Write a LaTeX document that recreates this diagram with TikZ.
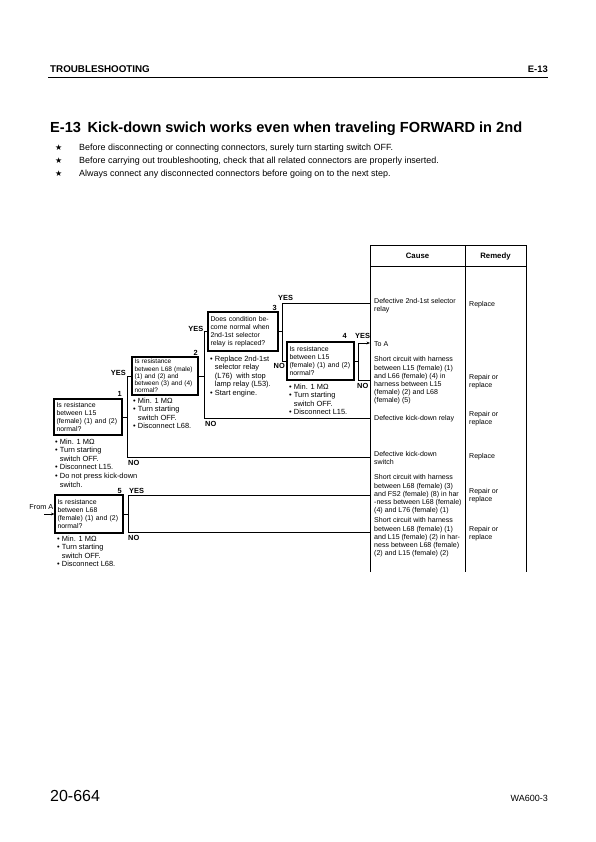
\documentclass[tikz,border=0pt]{standalone}
\usepackage{fontspec}
\setmainfont{Liberation Sans}
\newfontfamily\symfont{DejaVu Sans}
\usetikzlibrary{arrows.meta}
\begin{document}
\begin{tikzpicture}[x=1pt,y=-1pt,
  qbox/.style={draw, line width=1.1pt, inner xsep=2.5pt, inner ysep=0pt, align=left, font=\fontsize{6.9}{8}\selectfont},
  notes/.style={anchor=north west, inner sep=0pt, align=left, font=\fontsize{7.45}{8.6}\selectfont},
  lab/.style={inner sep=0pt, font=\bfseries\fontsize{7.4}{8}\selectfont},
  conn/.style={line width=0.7pt},
  cell/.style={anchor=west, inner sep=0pt, align=left, font=\fontsize{7.05}{8.2}\selectfont},
  tline/.style={line width=0.9pt},
  arr/.style={conn, -{Stealth[length=3.5pt,width=2.8pt]}}]
\useasboundingbox (0,0) rectangle (596,842);
\fill[white] (0,0) rectangle (596,842);

% header
\node[anchor=base west, inner sep=0pt, font=\bfseries\fontsize{9.8}{11}\selectfont] (hd) at (50,73) {TROUBLESHOOTING};
\node[anchor=base east, inner sep=0pt, font=\bfseries\fontsize{9.4}{11}\selectfont] (hdr) at (548,73) {E-13};
\draw[line width=1.3pt] (48,77.5) -- (548,77.5);

% title
\node[anchor=base west, inner sep=0pt, font=\bfseries\fontsize{14.6}{17}\selectfont] (title) at (50,133) {E-13\hspace{0.45em}Kick-down swich works even when traveling FORWARD in 2nd};

% precautions
\foreach \yy/\tt [count=\i] in {150.3/{Before disconnecting or connecting connectors, surely turn starting switch OFF.},
  163.3/{Before carrying out troubleshooting, check that all related connectors are properly inserted.},
  176.3/{Always connect any disconnected connectors before going on to the next step.}}{
  \node[anchor=base west, inner sep=0pt, font=\symfont\fontsize{8}{9}\selectfont] (st\i) at (55,\yy) {★};
  \node[anchor=base west, inner sep=0pt, font=\fontsize{8.95}{10}\selectfont] (pr\i) at (79,\yy) {\tt};
}

% table
\coordinate (TL) at (370,245);
\draw[tline] (370,572) -- (370,245) -- (526,245) -- (526,572);
\draw[tline] (465,245) -- (465,572);
\draw[tline] (370,266) -- (526,266);
\node[lab, font=\bfseries\fontsize{7.8}{9}\selectfont] (hcause) at (417.5,256) {Cause};
\node[lab, font=\bfseries\fontsize{7.8}{9}\selectfont] (hrem) at (495.5,256) {Remedy};

\node[cell] (c1) at (374,305.5) {Defective 2nd-1st selector\\relay};
\node[cell] (r1) at (469,305) {Replace};
\node[cell] (c2) at (374,344) {To A};
\node[cell] (c3) at (374,380.5) {Short circuit with harness\\between L15 (female) (1)\\and L66 (female) (4) in\\harness between L15\\(female) (2) and L68\\(female) (5)};
\node[cell] (r3) at (469,381.5) {Repair or\\replace};
\node[cell] (c4) at (374,419) {Defective kick-down relay};
\node[cell] (r4) at (469,418.5) {Repair or\\replace};
\node[cell] (c5) at (374,458) {Defective kick-down\\switch};
\node[cell] (r5) at (469,457) {Replace};
\node[cell] (c6) at (374,494.5) {Short circuit with harness\\between L68 (female) (3)\\and FS2 (female) (8) in har\\-ness between L68 (female)\\(4) and L76 (female) (1)};
\node[cell] (r6) at (469,495.5) {Repair or\\replace};
\node[cell] (c7) at (374,537.5) {Short circuit with harness\\between L68 (female) (1)\\and L15 (female) (2) in har-\\ness between L68 (female)\\(2) and L15 (female) (2)};
\node[cell] (r7) at (469,533.5) {Repair or\\replace};

% question boxes
\node[qbox, text width=63pt, minimum height=36pt] (q1) at (88,417) {Is resistance\\between L15\\(female) (1) and (2)\\normal?};
\node[qbox, text width=61pt, minimum height=38pt, font=\fontsize{6.5}{7.3}\selectfont] (q2) at (165,376) {Is resistance\\between L68 (male)\\(1) and (2) and\\between (3) and (4)\\normal?};
\node[qbox, text width=65pt, minimum height=39pt] (q3) at (243,331.5) {Does condition be-\\come normal when\\2nd-1st selector\\relay is replaced?};
\node[qbox, text width=62pt, minimum height=38pt] (q4) at (320.5,361) {Is resistance\\between L15\\(female) (1) and (2)\\normal?};
\node[qbox, text width=63pt, minimum height=38pt] (q5) at (89,514) {Is resistance\\between L68\\(female) (1) and (2)\\normal?};

% numbers
\node[lab, anchor=base east] (n1) at (122,396) {1};
\node[lab, anchor=base east] (n2) at (198,355) {2};
\node[lab, anchor=base east] (n3) at (277,310.5) {3};
\node[lab, anchor=base east] (n4) at (347,338.5) {4};
\node[lab, anchor=base east] (n5) at (122,493.5) {5};

% notes under boxes
\node[notes] (m1) at (55,438.4) {• Min. 1 MΩ\\• Turn starting\\\phantom{• }switch OFF.\\• Disconnect L15.\\• Do not press kick-down\\\phantom{• }switch.};
\node[notes] (m2) at (133,397.4) {• Min. 1 MΩ\\• Turn starting\\\phantom{• }switch OFF.\\• Disconnect L68.};
\node[notes] (m3) at (210,355.4) {• Replace 2nd-1st\\\phantom{• }selector relay\\\phantom{• }(L76)\ \ with stop\\\phantom{• }lamp relay (L53).\\• Start engine.};
\node[notes] (m4) at (289,383.4) {• Min. 1 MΩ\\• Turn starting\\\phantom{• }switch OFF.\\• Disconnect L15.};
\node[notes] (m5) at (57,535.4) {• Min. 1 MΩ\\• Turn starting\\\phantom{• }switch OFF.\\• Disconnect L68.};

% junction coordinates
\coordinate (v1t) at (127,376);
\coordinate (v1b) at (127,457);
\coordinate (v2t) at (204,331.5);
\coordinate (v2b) at (204,418);
\coordinate (v3t) at (282,303);
\coordinate (v3b) at (282,361);
\coordinate (v4t) at (358,343);
\coordinate (v4b) at (358,380);
\coordinate (v5t) at (128,495);
\coordinate (v5b) at (128,532);
\coordinate (fa) at (44,514);

% connectors
\draw[conn] (q1.east) -- (q1.east -| v1t);
\draw[conn] (q2.west) -- (v1t) -- (v1b) -- (v1b -| TL);
\draw[conn] (q2.east) -- (q2.east -| v2t);
\draw[conn] (q3.west) -- (v2t) -- (v2b) -- (v2b -| TL);
\draw[conn] (q3.east) -- (q3.east -| v3t);
\draw[conn] (v3t -| TL) -- (v3t) -- (v3b) -- (q4.west);
\draw[conn] (q4.east) -- (q4.east -| v4t);
\draw[arr] (v4t) -- (v4t -| TL);
\draw[conn] (v4t) -- (v4b) -- (v4b -| TL);
\draw[conn] (q5.east) -- (q5.east -| v5t);
\draw[conn] (v5t -| TL) -- (v5t) -- (v5b) -- (v5b -| TL);
\draw[arr] (fa) -- (q5.west);

% YES / NO labels
\node[lab, anchor=base east] (y1) at (126,375) {YES};
\node[lab, anchor=base west] (no1) at (128,465) {NO};
\node[lab, anchor=base east] (y2) at (203.5,331.5) {YES};
\node[lab, anchor=base west] (no2) at (205,426.5) {NO};
\node[lab, anchor=base west] (y3) at (278,300.5) {YES};
\node[lab, anchor=base east] (no3) at (285,368) {NO};
\node[lab, anchor=base west] (y4) at (355,338.5) {YES};
\node[lab, anchor=base west] (no4) at (357,388.5) {NO};
\node[lab, anchor=base west] (y5) at (129,493.5) {YES};
\node[lab, anchor=base west] (no5) at (128,540) {NO};
\node[anchor=base east, inner sep=0pt, font=\fontsize{7.3}{8}\selectfont] (froma) at (53.5,509.5) {From A};

% footer
\node[anchor=base west, inner sep=0pt, font=\fontsize{16}{18}\selectfont] (pg) at (50,801) {20-664};
\node[anchor=base east, inner sep=0pt, font=\fontsize{9}{10}\selectfont] (mdl) at (548,801) {WA600-3};
\end{tikzpicture}
\end{document}
